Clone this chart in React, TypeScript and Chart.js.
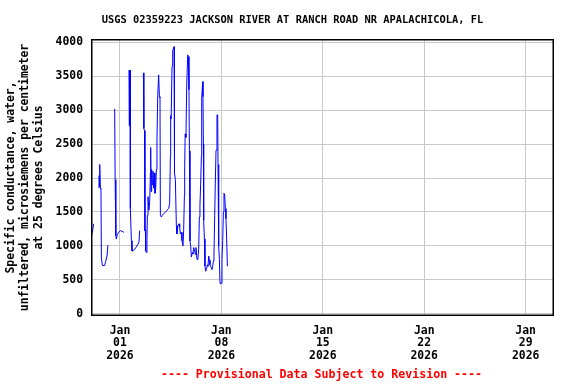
import React, { useEffect, useRef } from "react";
import { Chart, registerables } from "chart.js";

Chart.register(...registerables);

const TITLE = "USGS 02359223 JACKSON RIVER AT RANCH ROAD NR APALACHICOLA, FL";
const FOOTER = "---- Provisional Data Subject to Revision ----";
const Y_TITLE = [
  "Specific conductance, water,",
  "unfiltered, microsiemens per centimeter",
  "at 25 degrees Celsius",
];

// hours since 2026-01-01 00:00 ; null value = gap in record
const HOURS = [
  -47.4, -45.7, -43.6,
  -39,
  -34.8, -34.5, -34.0, -33.1, -32.5, -31.5, -30.8, -29.2, -25.3, -23.7, -21.5, -19.9,
  -15,
  -8.8, -8.0, -7.1, -6.6, -6.0, -4.3, -2.2, 1.2, 3.3, 6.6,
  10,
  14.9, 15.4, 15.9, 16.4, 16.9, 17.2, 18.9, 19.9, 21.5, 24.4, 27.2, 29.8, 31.5, 32.6,
  36,
  38.8, 39.6, 40.6, 41.4, 42.1, 42.6, 43.7, 44.7, 45.4, 46.4, 48.0, 49.2, 50.4, 50.9,
  51.4, 52.5, 53.7, 54.7, 55.8, 57.0, 58.0, 59.1, 60.3, 61.3, 62.5, 64.1, 65.3, 66.3,
  66.9, 68.6, 70.2, 72.4, 75.7, 77.9, 80.7, 82.3, 83.5, 84.0, 84.8, 86.2, 87.3, 89.5,
  90.1, 90.6, 91.8, 93.4, 94.4, 96.1, 97.8, 98.9, 100.1, 101.7, 102.7, 104.4, 105.5,
  106.7, 107.2, 108.0, 109.3, 110.5, 112.2, 113.3, 114.3, 115.0, 116.0, 117.1, 118.3,
  120.0, 120.9, 122.1, 123.8, 124.9, 125.9, 127.6, 129.2, 130.4, 131.5, 132.5, 133.7,
  134.9, 135.4, 137.0, 137.5, 138.2, 138.7, 139.8, 140.8, 142.0, 143.1, 144.8, 145.8,
  147.0, 148.1, 149.1, 150.3, 152.4, 153.6, 154.7, 155.7, 156.9, 158.1, 159.1, 160.7,
  161.9, 162.4, 163.0, 164.0, 164.7, 165.7, 166.8, 168.0, 169.0, 170.2, 171.3, 172.3,
  173.5, 174.6, 175.6, 176.8, 177.9,
];

const VALUES: (number | null)[] = [
  1150, 1200, 1325,
  null,
  1850, 2035, 1870, 2200, 1850, 1840, 825, 710, 710, 770, 850, 1010,
  null,
  3020, 1975, 1975, 1150, 1100, 1170, 1200, 1225, 1215, 1200,
  null,
  3590, 2770, 3590, 2770, 3590, 1550, 1075, 925, 930, 950, 985, 1025, 1060, 1225,
  null,
  3550, 2730, 2700, 1225, 1240, 925, 900, 1100, 1450, 1725, 1525, 1650, 2075, 2450,
  1800, 2125, 1900, 2100, 1850, 2075, 1775, 1825, 2125, 2560, 3215, 3520, 3200, 3180,
  1450, 1425, 1450, 1475, 1500, 1525, 1550, 1625, 2325, 2920, 2870, 3640, 3880, 3935,
  3640, 2075, 1975, 1300, 1175, 1300, 1325, 1275, 1175, 1200, 1075, 1000, 1225,
  1735, 2150, 2650, 2600, 3350, 3815, 3790, 3300, 2400, 1071, 1000, 835,
  900, 880, 975, 925, 870, 975, 800, 820, 950, 1425, 1600, 1925,
  2325, 3180, 3420, 3200, 2500, 1375, 1100, 700, 625, 650, 720, 700,
  850, 790, 720, 700, 650, 700, 775, 850, 1450, 2000, 2410, 2930,
  2930, 2200, 1400, 1000, 800, 450, 440, 450, 800, 1075, 1500, 1775,
  1750, 1550, 1400, 1100, 700,
];

const X_TICK_HOURS = [0, 168, 336, 504, 672];
const X_TICK_MONTHS = ["Jan", "Jan", "Jan", "Jan", "Jan"];
const X_TICK_DAYS = ["01", "08", "15", "22", "29"];
const X_TICK_YEARS = ["2026", "2026", "2026", "2026", "2026"];
const Y_TICKS = [0, 500, 1000, 1500, 2000, 2500, 3000, 3500, 4000];

const X_MIN = -48;
const X_MAX = 719;
const Y_MIN = -34;
const Y_MAX = 4049;

const FONT_FAMILY = '"DejaVu Sans Mono", "Liberation Mono", monospace';

const framePlugin = {
  id: "frameAndTexts",
  afterDraw(chart: any) {
    const { ctx, chartArea } = chart;
    ctx.save();
    ctx.strokeStyle = "#000";
    ctx.lineWidth = 1.5;
    ctx.strokeRect(
      chartArea.left + 0.75,
      chartArea.top + 0.75,
      chartArea.right - chartArea.left - 1.5,
      chartArea.bottom - chartArea.top - 1.5
    );
    ctx.textAlign = "center";
    ctx.textBaseline = "middle";
    ctx.font = `bold 10.4px ${FONT_FAMILY}`;
    ctx.fillStyle = "#000";
    ctx.fillText(TITLE, 292.5, 20.5);
    ctx.font = `bold 11.6px ${FONT_FAMILY}`;
    ctx.fillStyle = "#ff0000";
    ctx.fillText(FOOTER, 321.5, 375);
    ctx.restore();
  },
};

export default function App() {
  const canvasRef = useRef<HTMLCanvasElement | null>(null);

  useEffect(() => {
    const canvas = canvasRef.current;
    if (!canvas) return;
    const points = HOURS.map((h, i) => ({ x: h, y: VALUES[i] }));
    const tickFont = { family: FONT_FAMILY, size: 11.4, weight: "bold" as const, lineHeight: 1.096 };
    const chart = new Chart(canvas, {
      type: "line",
      data: {
        datasets: [
          {
            data: points as any,
            borderColor: "#0000ff",
            backgroundColor: "#0000ff",
            borderWidth: 1,
            pointRadius: 0,
            tension: 0,
            spanGaps: false,
            fill: false,
          },
        ],
      },
      options: {
        animation: false,
        responsive: false,
        devicePixelRatio: 1,
        layout: { padding: { top: 39, right: 22, left: 0, bottom: 0 } },
        plugins: {
          legend: { display: false },
          title: { display: false },
          tooltip: { enabled: false },
        },
        scales: {
          x: {
            type: "linear",
            min: X_MIN,
            max: X_MAX,
            afterBuildTicks: (s: any) => {
              s.ticks = X_TICK_HOURS.map((v) => ({ value: v }));
            },
            afterFit: (s: any) => {
              s.height = 384 - 316;
            },
            ticks: {
              color: "#000",
              font: tickFont,
              padding: 8.5,
              maxRotation: 0,
              autoSkip: false,
              callback: (_v: any, i: number) => [X_TICK_MONTHS[i], X_TICK_DAYS[i], X_TICK_YEARS[i]],
            },
            grid: { color: "#c8c8c8", drawTicks: false, lineWidth: 1 },
            border: { display: false },
          },
          y: {
            type: "linear",
            min: Y_MIN,
            max: Y_MAX,
            afterBuildTicks: (s: any) => {
              s.ticks = Y_TICKS.map((v) => ({ value: v }));
            },
            afterFit: (s: any) => {
              s.width = 91;
            },
            ticks: {
              color: "#000",
              font: tickFont,
              padding: 8,
              autoSkip: false,
              callback: (v: any) => String(v),
            },
            grid: { color: "#c8c8c8", drawTicks: false, lineWidth: 1 },
            border: { display: false },
            title: {
              display: true,
              text: Y_TITLE,
              color: "#000",
              font: { family: FONT_FAMILY, size: 11.4, weight: "bold", lineHeight: 1.254 },
              padding: { top: 3.5, bottom: 0 },
            },
          },
        },
      },
      plugins: [framePlugin],
    });
    return () => chart.destroy();
  }, []);

  return (
    <div style={{ position: "absolute", left: 0, top: 0, width: 576, height: 384, background: "#fff" }}>
      <canvas ref={canvasRef} width={576} height={384} style={{ display: "block" }} />
    </div>
  );
}
